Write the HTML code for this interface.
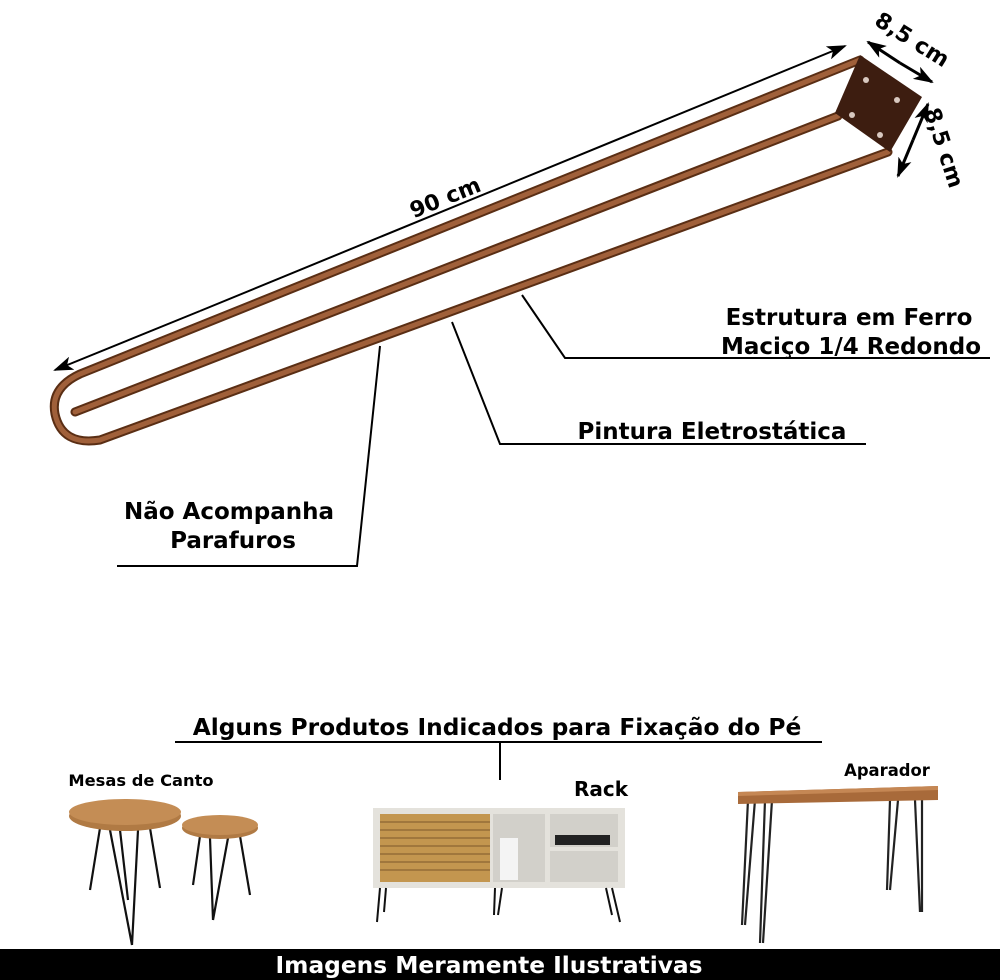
<!DOCTYPE html>
<html><head><meta charset="utf-8"><style>
html,body{margin:0;padding:0;background:#fff;width:1000px;height:980px;overflow:hidden}
svg{display:block}
text{font-family:"DejaVu Sans","Liberation Sans",sans-serif;font-weight:bold;fill:#000}
</style></head><body>
<svg width="1000" height="980" viewBox="0 0 1000 980" xmlns="http://www.w3.org/2000/svg">
<defs>
<marker id="ahb" markerWidth="20" markerHeight="14" refX="18" refY="7" orient="auto" markerUnits="userSpaceOnUse">
<path d="M0,0 L20,7 L0,14 L5,7 z" fill="#000"/></marker>
</defs>
<g fill="none" stroke-linecap="round">
<path d="M860,60 L80,374 Q50,388 55,414 Q62,446 100,440 L888,152" stroke="#5a2e14" stroke-width="9"/>
<path d="M838,116 L75,412" stroke="#5a2e14" stroke-width="9"/>
<path d="M860,60 L80,374 Q50,388 55,414 Q62,446 100,440 L888,152" stroke="#a0603a" stroke-width="5"/>
<path d="M838,116 L75,412" stroke="#a0603a" stroke-width="5"/>
</g>
<polygon points="860,55 922,97 890,152 835,113" fill="#3d1d10"/>
<g fill="#d8c8c0"><circle cx="866" cy="80" r="3"/><circle cx="897" cy="100" r="3"/><circle cx="852" cy="115" r="3"/><circle cx="880" cy="135" r="3"/></g>
<line x1="200" y1="311" x2="845" y2="46" stroke="#000" stroke-width="2" marker-end="url(#ahb)"/>
<line x1="200" y1="311" x2="55" y2="370" stroke="#000" stroke-width="2" marker-end="url(#ahb)"/>
<line x1="900" y1="63" x2="868" y2="42" stroke="#000" stroke-width="3" marker-end="url(#ahb)"/>
<line x1="900" y1="63" x2="932" y2="82" stroke="#000" stroke-width="3" marker-end="url(#ahb)"/>
<line x1="913" y1="140" x2="928" y2="104" stroke="#000" stroke-width="3" marker-end="url(#ahb)"/>
<line x1="913" y1="140" x2="898" y2="176" stroke="#000" stroke-width="3" marker-end="url(#ahb)"/>
<text x="445" y="205" font-size="22" transform="rotate(-22 445 197)" text-anchor="middle">90 cm</text>
<text x="912" y="47" font-size="22" transform="rotate(32 912 40)" text-anchor="middle">8,5 cm</text>
<text x="937" y="150" font-size="22" transform="rotate(72 937 150)" text-anchor="middle">8,5 cm</text>
<g fill="none" stroke="#000" stroke-width="2">
<polyline points="522,295 565,358 990,358"/>
<polyline points="452,322 500,444 866,444"/>
<polyline points="380,346 357,566 117,566"/>
</g>
<text x="849" y="325" font-size="23" text-anchor="middle">Estrutura em Ferro</text>
<text x="851" y="354" font-size="23" text-anchor="middle">Maciço 1/4 Redondo</text>
<text x="712" y="439" font-size="23" text-anchor="middle">Pintura Eletrostática</text>
<text x="229" y="519" font-size="23" text-anchor="middle">Não Acompanha</text>
<text x="233" y="548" font-size="23" text-anchor="middle">Parafuros</text>
<text x="497" y="735" font-size="23.3" text-anchor="middle">Alguns Produtos Indicados para Fixação do Pé</text>
<line x1="175" y1="742" x2="822" y2="742" stroke="#000" stroke-width="2"/>
<line x1="500" y1="742" x2="500" y2="780" stroke="#000" stroke-width="2"/>
<text x="141" y="786" font-size="16.3" text-anchor="middle">Mesas de Canto</text>
<text x="601" y="796" font-size="20" text-anchor="middle">Rack</text>
<text x="887" y="776" font-size="16.4" text-anchor="middle">Aparador</text>
<g stroke="#111" stroke-width="2.2" fill="none">
<path d="M100,828 L90,890 M150,828 L160,888 M110,830 L132,945 M138,830 L132,945 M120,830 L128,900"/>
<path d="M200,836 L193,885 M240,836 L250,895 M210,838 L213,920 M228,838 L213,920"/>
</g>
<ellipse cx="125" cy="816" rx="56" ry="15" fill="#b07a44"/>
<ellipse cx="125" cy="812" rx="56" ry="13" fill="#c48d55"/>
<ellipse cx="220" cy="828" rx="38" ry="11" fill="#b07a44"/>
<ellipse cx="220" cy="825" rx="38" ry="10" fill="#c48d55"/>
<rect x="373" y="808" width="252" height="80" fill="#e4e2dc"/>
<rect x="380" y="814" width="110" height="68" fill="#c3964f"/>
<g stroke="#8b6533" stroke-width="1.2">
<line x1="380" y1="822" x2="490" y2="822"/><line x1="380" y1="830" x2="490" y2="830"/><line x1="380" y1="838" x2="490" y2="838"/><line x1="380" y1="846" x2="490" y2="846"/><line x1="380" y1="854" x2="490" y2="854"/><line x1="380" y1="862" x2="490" y2="862"/><line x1="380" y1="870" x2="490" y2="870"/>
</g>
<rect x="493" y="814" width="52" height="68" fill="#d2d0ca"/>
<rect x="550" y="814" width="68" height="33" fill="#d2d0ca"/>
<rect x="550" y="851" width="68" height="31" fill="#d2d0ca"/>
<rect x="555" y="835" width="55" height="10" fill="#222"/>
<rect x="500" y="838" width="18" height="42" fill="#f4f4f4"/>
<g stroke="#111" stroke-width="2" fill="none">
<path d="M380,888 L377,922 M386,888 L384,912 M495,888 L494,915 M502,888 L498,915 M606,888 L612,915 M612,888 L620,922"/>
</g>
<g stroke="#222" stroke-width="2.2" fill="none">
<path d="M748,800 L742,925 M755,800 L745,925 M765,800 L760,943 M772,800 L763,943"/>
<path d="M890,800 L887,890 M898,800 L890,890 M915,800 L920,912 M922,800 L922,912"/>
</g>
<polygon points="738,792 938,786 938,800 738,804" fill="#a86a3a"/>
<polygon points="738,792 938,786 938,790 738,796" fill="#c58754"/>
<rect x="0" y="949" width="1000" height="31" fill="#000"/>
<text x="489" y="973" font-size="23.3" text-anchor="middle" style="fill:#fff">Imagens Meramente Ilustrativas</text>
</svg>
</body></html>
